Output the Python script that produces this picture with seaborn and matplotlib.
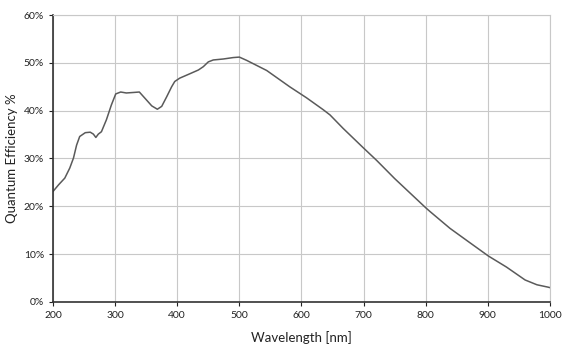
import numpy as np
import pandas as pd
import matplotlib
matplotlib.use("Agg")
import matplotlib.pyplot as plt
import seaborn as sns
from matplotlib.ticker import PercentFormatter

# lecture de la courbe (longueur d'onde en nm, efficacité quantique en %)
wavelength = [200, 209, 219, 227, 233, 238, 243, 252, 260, 265, 269, 273, 278, 286,
              294, 301, 309, 318, 329, 339, 348, 359, 368, 375, 383, 391, 396, 404,
              420, 434, 442, 450, 458, 474, 490, 500, 512, 544, 581, 608, 635, 646,
              667, 699, 721, 750, 800, 807, 839, 871, 901, 930, 960, 979, 997, 1000]
qe = [23.1, 24.5, 25.9, 28.0, 30.1, 32.8, 34.6, 35.4, 35.5, 35.1, 34.4, 35.1, 35.6, 38.1,
      41.2, 43.5, 43.9, 43.7, 43.8, 43.9, 42.6, 41.0, 40.3, 40.9, 42.9, 45.0, 46.1, 46.8,
      47.7, 48.5, 49.2, 50.2, 50.6, 50.8, 51.1, 51.2, 50.5, 48.4, 45.0, 42.7, 40.2, 39.1,
      36.3, 32.3, 29.6, 25.8, 19.7, 18.9, 15.4, 12.4, 9.6, 7.3, 4.6, 3.6, 3.1, 3.0]

x_ticks = [200, 300, 400, 500, 600, 700, 800, 900, 1000]
y_ticks = [0, 10, 20, 30, 40, 50, 60]

df = pd.DataFrame({"Wavelength": wavelength, "QE": qe})

sns.set_style("white")
plt.rcParams['font.family'] = ['Lato', 'DejaVu Sans']

fig = plt.figure(figsize=(5.81, 3.49), dpi=100)
ax = fig.add_axes([0.0912, 0.1347, 0.8554, 0.8223])

sns.lineplot(data=df, x="Wavelength", y="QE", ax=ax, color="#5a5a5a", linewidth=1.1)

ax.set_xlim(200, 1000)
ax.set_ylim(0, 60)
ax.set_xticks(x_ticks)
ax.set_yticks(y_ticks)
ax.yaxis.set_major_formatter(PercentFormatter(decimals=0))
ax.grid(True, color="#c8c8c8", linewidth=0.8)
ax.set_axisbelow(True)

for side in ["top", "right"]:
    ax.spines[side].set_color("#c8c8c8")
    ax.spines[side].set_linewidth(0.8)
for side in ["left", "bottom"]:
    ax.spines[side].set_color("#333333")
    ax.spines[side].set_linewidth(1.2)

ax.tick_params(axis="both", labelsize=7.5, colors="#222222", length=3, width=0.8,
               direction="out", bottom=True, left=True)
ax.set_xlabel("Wavelength [nm]", fontsize=9.5, color="#222222", labelpad=8)
ax.set_ylabel("Quantum Efficiency %", fontsize=9.5, color="#222222", labelpad=4)

fig.savefig("out.png", dpi=100)
